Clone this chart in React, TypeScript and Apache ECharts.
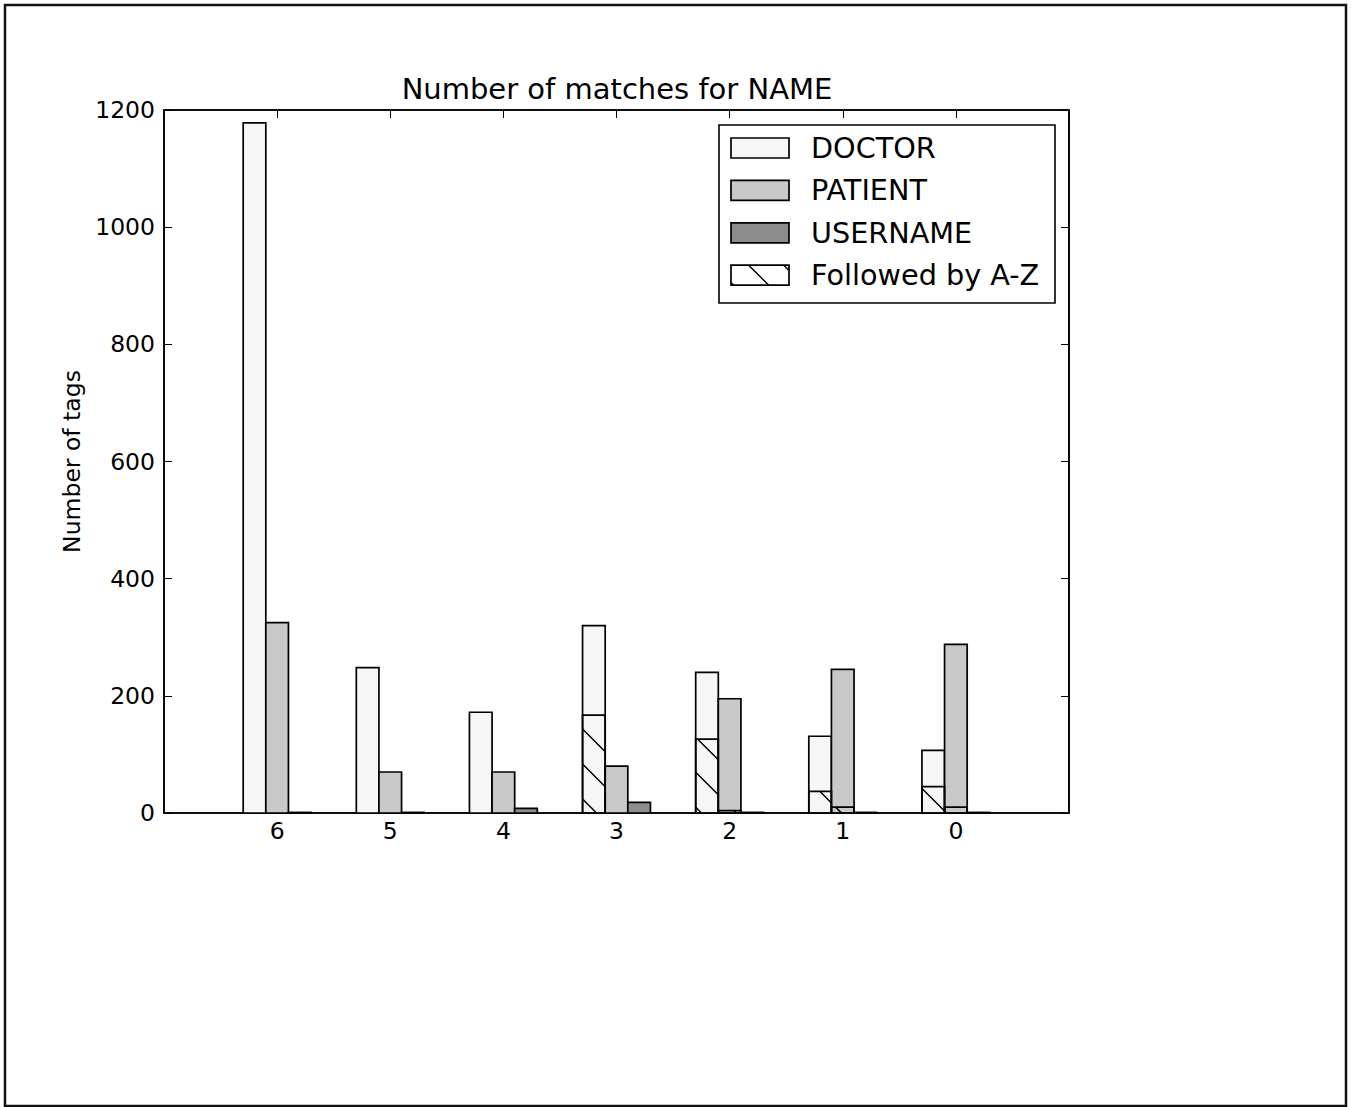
import React, { useEffect, useRef } from "react";
import * as echarts from "echarts";

// Match-count categories (left to right) and counts per tag type
const categories = ["6", "5", "4", "3", "2", "1", "0"];
const doctor = [1178, 248, 172, 320, 240, 131, 107];
const patient = [325, 70, 70, 80, 195, 245, 288];
const username = [1, 1, 8, 18, 1, 1, 1];
// Part of each DOCTOR / PATIENT bar whose match is followed by A-Z
const doctorAZ = [0, 0, 0, 167, 126, 37, 45];
const patientAZ = [0, 0, 0, 0, 4, 10, 10];
const yTicks = [0, 200, 400, 600, 800, 1000, 1200];

const FONT = '"DejaVu Sans", "Liberation Sans", sans-serif';
const BAR = 0.2;
const EDGE = 1.7;
const DOCTOR_FILL = "#f6f6f6";
const PATIENT_FILL = "#c9c9c9";
const USERNAME_FILL = "#8d8d8d";
const HATCH_STEP = 35;
const HATCH_PHASE = 6.5;

// Diagonal "\" hatch segments clipped to a pixel rectangle
function hatchLines(x0: number, y0: number, x1: number, y1: number) {
  const out: any[] = [];
  const nStart = Math.ceil((y0 - x1 - HATCH_PHASE) / HATCH_STEP);
  const nEnd = Math.floor((y1 - x0 - HATCH_PHASE) / HATCH_STEP);
  for (let n = nStart; n <= nEnd; n++) {
    const k = HATCH_PHASE + n * HATCH_STEP;
    const xa = Math.max(x0, y0 - k);
    const xb = Math.min(x1, y1 - k);
    if (xb - xa > 0.5) {
      out.push({
        type: "line",
        shape: { x1: xa, y1: xa + k, x2: xb, y2: xb + k },
        style: { stroke: "#000", lineWidth: 1.5 },
      });
    }
  }
  return out;
}

function barSeries(name: string, values: number[], offset: number, fill: string, hatched: boolean) {
  return {
    type: "custom",
    name,
    xAxisIndex: 0,
    yAxisIndex: 0,
    data: values.map((v, i) => [i + 1, v]),
    renderItem: (_params: any, api: any) => {
      const pos = api.value(0);
      const v = api.value(1);
      if (hatched && v <= 0) return { type: "group", children: [] };
      const a = api.coord([pos + offset - BAR / 2, v]);
      const b = api.coord([pos + offset + BAR / 2, 0]);
      const x0 = a[0], y0 = a[1], x1 = b[0], y1 = b[1];
      const children: any[] = [
        {
          type: "rect",
          shape: { x: x0, y: y0, width: x1 - x0, height: y1 - y0 },
          style: { fill, stroke: "#000", lineWidth: EDGE },
        },
      ];
      if (hatched) children.push(...hatchLines(x0, y0, x1, y1));
      return { type: "group", children };
    },
  };
}

function legendGraphic() {
  const items = [
    { label: "DOCTOR", fill: DOCTOR_FILL, hatch: false },
    { label: "PATIENT", fill: PATIENT_FILL, hatch: false },
    { label: "USERNAME", fill: USERNAME_FILL, hatch: false },
    { label: "Followed by A-Z", fill: "#ffffff", hatch: true },
  ];
  const children: any[] = [
    {
      type: "rect",
      shape: { x: 719, y: 125, width: 336, height: 178 },
      style: { fill: "#fff", stroke: "#000", lineWidth: 1.6 },
    },
  ];
  items.forEach((it, i) => {
    const cy = 148 + i * 42.4;
    const px0 = 731, px1 = 789, py0 = cy - 10, py1 = cy + 10;
    children.push({
      type: "rect",
      shape: { x: px0, y: py0, width: px1 - px0, height: py1 - py0 },
      style: { fill: it.fill, stroke: "#000", lineWidth: EDGE },
    });
    if (it.hatch) children.push(...hatchLines(px0, py0, px1, py1));
    children.push({
      type: "text",
      style: {
        text: it.label,
        x: 811,
        y: cy,
        fill: "#000",
        fontSize: 28.7,
        fontFamily: FONT,
        verticalAlign: "middle",
        align: "left",
      },
    });
  });
  return { type: "group", z: 100, children };
}

// Inward ticks, as on every side of the plot frame
function innerTicks() {
  return { show: true, inside: true, length: 8, lineStyle: { color: "#000", width: 1 } };
}

function frameAxisLine() {
  return { show: true, onZero: false, lineStyle: { color: "#000", width: 1.6 } };
}

export default function App() {
  const ref = useRef<HTMLDivElement>(null);

  useEffect(() => {
    if (!ref.current) return;
    const chart = echarts.init(ref.current, undefined, { renderer: "svg" });
    chart.setOption({
      animation: false,
      backgroundColor: "#fff",
      grid: {
        left: 164,
        top: 110,
        width: 905,
        height: 703,
        show: true,
        borderColor: "#000",
        borderWidth: 1.6,
        backgroundColor: "transparent",
      },
      xAxis: [
        {
          type: "value",
          position: "bottom",
          min: 0,
          max: categories.length + 1,
          interval: 1,
          axisLine: frameAxisLine(),
          axisTick: innerTicks(),
          splitLine: { show: false },
          axisLabel: {
            margin: 6,
            fontSize: 23.5,
            color: "#000",
            fontFamily: FONT,
            showMinLabel: false,
            showMaxLabel: false,
            formatter: (v: number) => (v >= 1 && v <= categories.length ? categories[v - 1] : ""),
          },
        },
        {
          type: "value",
          position: "top",
          min: 0,
          max: categories.length + 1,
          interval: 1,
          axisLine: frameAxisLine(),
          axisTick: innerTicks(),
          splitLine: { show: false },
          axisLabel: { show: false },
        },
      ],
      yAxis: [
        {
          type: "value",
          position: "left",
          min: yTicks[0],
          max: yTicks[yTicks.length - 1],
          interval: yTicks[1] - yTicks[0],
          axisLine: frameAxisLine(),
          axisTick: innerTicks(),
          splitLine: { show: false },
          axisLabel: {
            margin: 9,
            fontSize: 23.5,
            color: "#000",
            fontFamily: FONT,
            formatter: (v: number) => String(v),
          },
          name: "Number of tags",
          nameLocation: "middle",
          nameGap: 71,
          nameTextStyle: { fontSize: 23.5, color: "#000", fontFamily: FONT },
        },
        {
          type: "value",
          position: "right",
          min: yTicks[0],
          max: yTicks[yTicks.length - 1],
          interval: yTicks[1] - yTicks[0],
          axisLine: frameAxisLine(),
          axisTick: innerTicks(),
          splitLine: { show: false },
          axisLabel: { show: false },
        },
      ],
      series: [
        barSeries("DOCTOR", doctor, -BAR, DOCTOR_FILL, false),
        barSeries("PATIENT", patient, 0, PATIENT_FILL, false),
        barSeries("USERNAME", username, BAR, USERNAME_FILL, false),
        barSeries("DOCTOR followed by A-Z", doctorAZ, -BAR, "none", true),
        barSeries("PATIENT followed by A-Z", patientAZ, 0, "none", true),
      ],
      graphic: [
        {
          type: "rect",
          z: 100,
          shape: { x: 5, y: 5, width: 1341, height: 1101 },
          style: { fill: "none", stroke: "#111", lineWidth: 2.5 },
        },
        {
          type: "text",
          z: 100,
          style: {
            text: "Number of matches for NAME",
            x: 617,
            y: 89,
            fill: "#000",
            fontSize: 29,
            fontFamily: FONT,
            align: "center",
            verticalAlign: "middle",
          },
        },
        legendGraphic(),
      ],
    });
    return () => chart.dispose();
  }, []);

  return (
    <div
      ref={ref}
      style={{ position: "absolute", left: 0, top: 0, width: 1355, height: 1107, background: "#fff" }}
    />
  );
}
